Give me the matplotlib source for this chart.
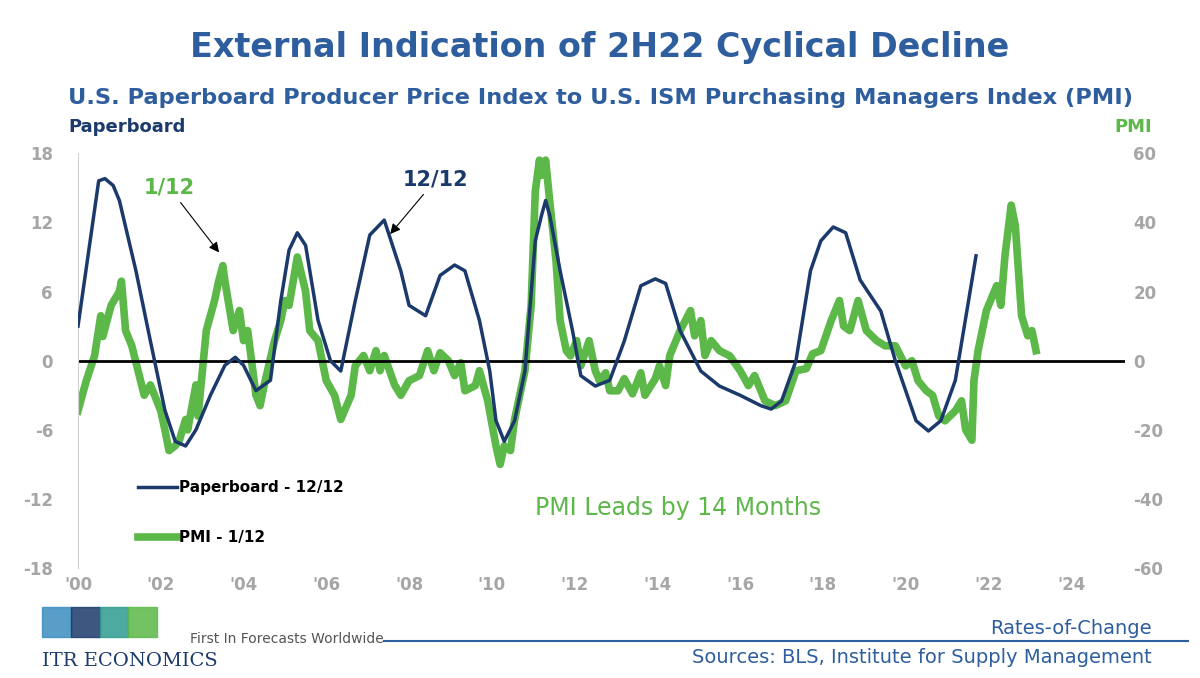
import numpy as np
import matplotlib
matplotlib.use("Agg")
import matplotlib.pyplot as plt
from matplotlib.patches import Rectangle

plt.rcParams["axes.unicode_minus"] = False

# Paperboard PPI 12/12 rate-of-change (%), left axis
paper_x = [2000, 2000.5, 2000.65, 2000.85, 2001, 2001.4, 2001.75, 2002.1, 2002.35, 2002.6,
           2002.85, 2003.2, 2003.55, 2003.8, 2004, 2004.3, 2004.65, 2004.9, 2005.1, 2005.3,
           2005.5, 2005.8, 2006.1, 2006.35, 2006.7, 2007.05, 2007.4, 2007.8, 2008.0, 2008.4,
           2008.75, 2009.1, 2009.35, 2009.7, 2009.95, 2010.1, 2010.3, 2010.55, 2010.8, 2011.05,
           2011.2, 2011.3, 2011.4, 2011.65, 2011.95, 2012.15, 2012.5, 2012.85, 2013.2, 2013.6,
           2013.95, 2014.2, 2014.55, 2015.05, 2015.5, 2016, 2016.5, 2016.75, 2017, 2017.35,
           2017.7, 2017.95, 2018.25, 2018.55, 2018.9, 2019.4, 2019.75, 2020.25, 2020.55, 2020.85,
           2021.2, 2021.7]
paper_y = [3.0, 15.6, 15.8, 15.2, 13.9, 7.8, 1.7, -4.3, -7.0, -7.4,
           -6.0, -3.0, -0.4, 0.3, -0.4, -2.6, -1.7, 5.2, 9.6, 11.1,
           10.0, 3.5, 0.0, -0.9, 5.2, 10.9, 12.2, 7.8, 4.8, 3.9,
           7.4, 8.3, 7.8, 3.5, -0.9, -5.2, -7.0, -5.2, -0.9, 10.4,
           12.6, 13.9, 12.6, 7.8, 2.6, -1.3, -2.2, -1.7, 1.7, 6.5,
           7.1, 6.7, 2.6, -0.9, -2.2, -3.0, -3.9, -4.2, -3.5, 0.0,
           7.8, 10.4, 11.6, 11.1, 7.0, 4.3, 0.0, -5.2, -6.1, -5.2,
           -1.7, 9.1]

# PMI 1/12 rate-of-change (%), right axis
pmi_x = [2000, 2000.2, 2000.4, 2000.55, 2000.6, 2000.8, 2001, 2001.05, 2001.15, 2001.3,
         2001.45, 2001.6, 2001.75, 2002, 2002.1, 2002.2, 2002.35, 2002.45, 2002.6, 2002.65,
         2002.85, 2002.9, 2003.1, 2003.3, 2003.4, 2003.5, 2003.55, 2003.75, 2003.9, 2004,
         2004.1, 2004.3, 2004.4, 2004.5, 2004.75, 2004.9, 2005, 2005.1, 2005.3, 2005.5,
         2005.6, 2005.8, 2006, 2006.2, 2006.35, 2006.6, 2006.7, 2006.9, 2007.05, 2007.2,
         2007.3, 2007.4, 2007.65, 2007.8, 2008, 2008.25, 2008.45, 2008.6, 2008.75, 2008.95,
         2009.1, 2009.25, 2009.35, 2009.6, 2009.7, 2009.9, 2010.1, 2010.2, 2010.3, 2010.45,
         2010.55, 2010.8, 2010.95, 2011.05, 2011.15, 2011.2, 2011.3, 2011.4, 2011.55, 2011.65,
         2011.8, 2011.9, 2012.05, 2012.15, 2012.35, 2012.5, 2012.6, 2012.75, 2012.85, 2013.05,
         2013.2, 2013.4, 2013.6, 2013.7, 2013.95, 2014.05, 2014.2, 2014.3, 2014.55, 2014.8,
         2014.9, 2015.05, 2015.15, 2015.3, 2015.5, 2015.75, 2016, 2016.2, 2016.35, 2016.5,
         2016.6, 2016.85, 2017.1, 2017.35, 2017.6, 2017.75, 2017.95, 2018.2, 2018.4, 2018.5,
         2018.65, 2018.85, 2019.05, 2019.3, 2019.5, 2019.75, 2020, 2020.15, 2020.3, 2020.5,
         2020.65, 2020.8, 2020.95, 2021.2, 2021.35, 2021.45, 2021.6, 2021.65, 2021.75, 2021.95,
         2022.05, 2022.2, 2022.3, 2022.4, 2022.55, 2022.65, 2022.8, 2022.95, 2023.05, 2023.15]
pmi_y = [-14.5, -5.8, 1.4, 13, 7, 16, 20, 23, 8.7, 4.3,
         -2.9, -10, -7, -14.5, -20, -26, -24.6, -23, -17, -20,
         -7, -16, 8.7, 17.4, 23, 27.5, 23, 8.7, 14.5, 5.8,
         8.7, -10, -13, -7, 5.8, 11.6, 17.4, 16, 30, 20,
         8.7, 5.8, -5.8, -10, -17, -10, -1.5, 1.5, -2.9, 2.9,
         -2.9, 1.5, -7, -10, -5.8, -4.3, 2.9, -2.9, 2.3, 0,
         -4.3, -0.6, -8.7, -7.2, -2.9, -11.6, -24.6, -30, -24.6, -26,
         -17, -2.9, 16, 49, 58, 53.6, 58, 46, 29, 11.6,
         2.9, 1.4, 5.8, -1.5, 5.8, -2.9, -5.8, -3.5, -8.7, -8.7,
         -5.2, -9.6, -3.5, -10, -5.2, -1.5, -7.2, 1.5, 8.7, 14.5,
         7.2, 11.6, 1.5, 5.8, 2.9, 1.4, -2.9, -7.2, -4.3, -8.7,
         -11.6, -13, -11.6, -2.9, -2.3, 2, 2.9, 11.6, 17.4, 10,
         8.7, 17.4, 8.7, 5.8, 4.3, 4.3, -1.5, 0, -5.8, -8.7,
         -10, -16, -17.4, -14.5, -11.6, -20, -23, -5.8, 2.9, 14.5,
         17.4, 21.7, 16, 30.4, 45, 39, 13, 7.2, 8.7, 2.9]

year_ticks = list(range(2000, 2025, 2))
year_labels = ["'%02d" % (y % 100) for y in year_ticks]

NAVY = "#1b3a6b"
GREEN = "#5cb848"
TITLE = "#2e5e9e"
GREY = "#a6a6a6"

fig = plt.figure(figsize=(12, 6.78), dpi=100)
ax = fig.add_axes([0.065, 0.162, 0.8725, 0.612])
ax2 = ax.twinx()

ax.plot(paper_x, paper_y, color=NAVY, lw=2.5, zorder=3)
ax2.plot(pmi_x, pmi_y, color=GREEN, lw=5.5, solid_joinstyle="round", zorder=2)
ax.axhline(0, color="black", lw=2, zorder=1)

ax.set_xlim(2000, 2025.3)
ax.set_ylim(-18, 18)
ax2.set_ylim(-60, 60)
ax.set_yticks(range(-18, 19, 6))
ax2.set_yticks(range(-60, 61, 20))
ax.set_xticks(year_ticks)
ax.set_xticklabels(year_labels)
ax.set_zorder(ax2.get_zorder() + 1)
ax.patch.set_visible(False)

for a in (ax, ax2):
    for s in a.spines.values():
        s.set_visible(False)
    a.tick_params(colors=GREY, labelsize=12, length=0, pad=6)
    for t in a.get_xticklabels() + a.get_yticklabels():
        t.set_fontweight("bold")
ax.spines["left"].set_visible(True)
ax.spines["left"].set_color("#d0d0d0")
ax.tick_params(axis="y", pad=18)

# annotations
ax.annotate("1/12", xy=(2003.45, 9.2), xytext=(2002.2, 14.5), color=GREEN,
            fontsize=15, fontweight="bold", ha="center",
            arrowprops=dict(arrowstyle="-|>", color="black", lw=0.8))
ax.annotate("12/12", xy=(2007.5, 10.8), xytext=(2008.65, 15.2), color=NAVY,
            fontsize=15, fontweight="bold", ha="center",
            arrowprops=dict(arrowstyle="-|>", color="black", lw=0.8))

# legend
ax.plot([2001.45, 2002.4], [-11, -11], color=NAVY, lw=2.5)
ax.text(2002.45, -11, "Paperboard - 12/12", va="center", fontsize=11, fontweight="bold")
ax.plot([2001.45, 2002.4], [-15.3, -15.3], color=GREEN, lw=5.5)
ax.text(2002.45, -15.3, "PMI - 1/12", va="center", fontsize=11, fontweight="bold")
ax.text(2014.5, -12.8, "PMI Leads by 14 Months", color=GREEN, fontsize=17, ha="center", va="center")

# titles
fig.text(0.5, 0.93, "External Indication of 2H22 Cyclical Decline", ha="center", va="center",
         fontsize=24, fontweight="bold", color=TITLE)
fig.text(0.5, 0.855, "U.S. Paperboard Producer Price Index to U.S. ISM Purchasing Managers Index (PMI)",
         ha="center", va="center", fontsize=16.2, fontweight="bold", color=TITLE)
fig.text(0.057, 0.812, "Paperboard", ha="left", va="center", fontsize=13, fontweight="bold", color=NAVY)
fig.text(0.96, 0.812, "PMI", ha="right", va="center", fontsize=13, fontweight="bold", color=GREEN)

# footer
logo_cols = ["#3b8dbf", "#1b3a6b", "#2e9b8f", "#5cb848"]
for i, c in enumerate(logo_cols):
    fig.patches.append(Rectangle((0.035 + i * 0.024, 0.06), 0.024, 0.045, color=c,
                                 transform=fig.transFigure, figure=fig, alpha=0.85))
fig.text(0.035, 0.025, "ITR ECONOMICS", fontsize=14, family="DejaVu Serif", color=NAVY, va="center")
fig.text(0.158, 0.058, "First In Forecasts Worldwide", fontsize=10, color="#555555", va="center")
fig.add_artist(plt.Line2D([0.32, 0.99], [0.055, 0.055], color=TITLE, lw=1.5,
                          transform=fig.transFigure))
fig.text(0.96, 0.073, "Rates-of-Change", ha="right", va="center", fontsize=14, color=TITLE)
fig.text(0.96, 0.03, "Sources: BLS, Institute for Supply Management", ha="right", va="center",
         fontsize=14, color=TITLE)

fig.savefig("out.png", dpi=100)
plt.close(fig)
